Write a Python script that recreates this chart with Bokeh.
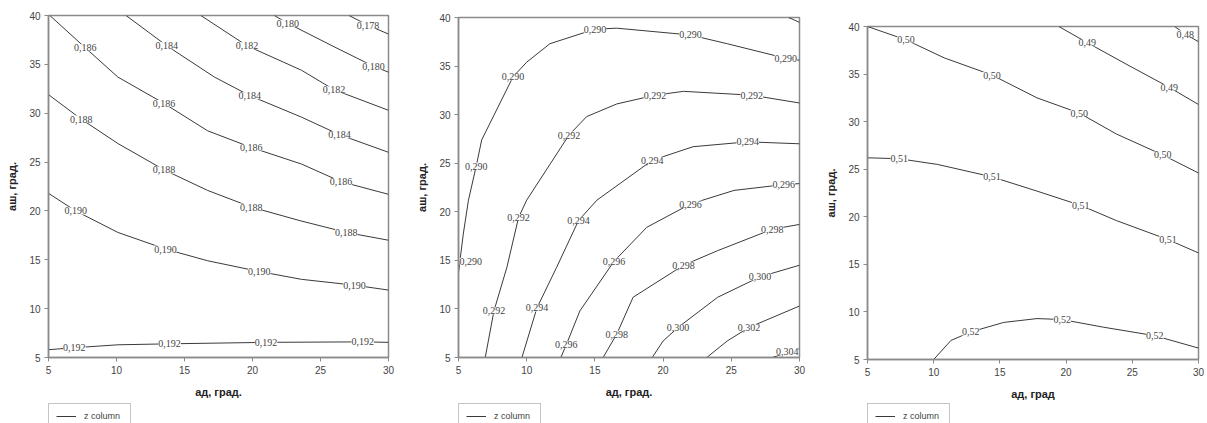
from bokeh.plotting import figure
from bokeh.layouts import row, column
from bokeh.models import (Range1d, FixedTicker, ColumnDataSource, LabelSet,
                          Legend, LegendItem)
from bokeh.embed import file_html
from bokeh.resources import INLINE

# ---------------- data ----------------
X_TICKS = [5, 10, 15, 20, 25, 30]
Y_TICKS = [5, 10, 15, 20, 25, 30, 35, 40]

# Panel 1
P1_LEVELS = ["0,178", "0,180", "0,182", "0,184", "0,186", "0,188", "0,190", "0,192"]
P1_XS = [
    [27.1, 28.5, 30],
    [21.6, 22.6, 26.0, 28.9, 30],
    [16.2, 19.6, 23.6, 26.0, 30],
    [10.7, 13.7, 17.2, 19.8, 23.6, 26.4, 30],
    [5.1, 7.7, 10.1, 13.5, 16.7, 19.9, 23.6, 26.5, 30],
    [5, 7.4, 10.1, 13.5, 16.7, 19.9, 23.5, 26.9, 30],
    [5, 7.0, 10.1, 13.6, 16.7, 20.5, 23.6, 27.5, 30],
    [5, 6.9, 10.1, 13.9, 21.0, 28.1, 30],
]
P1_YS = [
    [40, 39.0, 38.1],
    [40, 39.2, 36.8, 34.8, 34.2],
    [40, 36.9, 34.4, 32.4, 30.3],
    [40, 36.9, 33.7, 31.8, 29.6, 27.8, 26.0],
    [40, 36.7, 33.7, 31.0, 28.2, 26.5, 24.8, 23.0, 21.7],
    [31.9, 29.4, 26.9, 24.2, 22.1, 20.4, 19.0, 17.8, 17.0],
    [21.8, 20.0, 17.8, 16.1, 14.9, 13.8, 13.0, 12.4, 11.9],
    [5.8, 6.0, 6.3, 6.4, 6.55, 6.6, 6.55],
]
P1_LAB_X = [28.5, 22.6, 28.9, 19.6, 26.0, 13.7, 19.8, 26.4, 7.7, 13.5, 19.9, 26.5,
            7.4, 13.5, 19.9, 26.9, 7.0, 13.6, 20.5, 27.5, 6.9, 13.9, 21.0, 28.1]
P1_LAB_Y = [39.0, 39.2, 34.8, 36.9, 32.4, 36.9, 31.8, 27.8, 36.7, 31.0, 26.5, 23.0,
            29.4, 24.2, 20.4, 17.8, 20.0, 16.1, 13.8, 12.4, 6.0, 6.4, 6.55, 6.6]
P1_LAB_T = ["0,178", "0,180", "0,180", "0,182", "0,182", "0,184", "0,184", "0,184",
            "0,186", "0,186", "0,186", "0,186", "0,188", "0,188", "0,188", "0,188",
            "0,190", "0,190", "0,190", "0,190", "0,192", "0,192", "0,192", "0,192"]

# Panel 2
P2_LEVELS = ["0,288", "0,290", "0,292", "0,294", "0,296", "0,298", "0,300", "0,302", "0,304"]
P2_XS = [
    [29.2, 30],
    [5.0, 5.1, 5.35, 5.73, 6.3, 6.7, 9.0, 10.0, 11.7, 15.0, 16.6, 22.0, 24.7, 29.0, 30],
    [6.96, 7.6, 8.55, 9.4, 10.0, 13.1, 14.4, 16.6, 19.4, 21.5, 26.5, 30],
    [9.65, 10.75, 12.2, 13.8, 15.15, 19.2, 22.2, 26.2, 30],
    [12.5, 12.9, 13.9, 16.4, 18.8, 22.0, 25.2, 28.85, 30],
    [15.6, 16.6, 17.8, 21.5, 24.0, 28.0, 30],
    [19.2, 20.0, 21.1, 24.0, 27.1, 30],
    [23.2, 24.7, 26.3, 30],
    [28.0, 29.1, 30],
]
P2_YS = [
    [40, 39.5],
    [13.8, 14.9, 17.7, 21.2, 24.7, 27.4, 33.9, 35.4, 37.3, 38.8, 38.9, 38.2, 37.3, 35.8, 35.6],
    [5, 9.8, 14.3, 19.4, 21.2, 27.9, 29.8, 31.1, 32.0, 32.4, 32.0, 31.2],
    [5, 10.1, 14.3, 19.1, 21.2, 25.3, 26.7, 27.2, 27.0],
    [5, 6.3, 9.8, 14.9, 18.4, 20.8, 22.2, 22.8, 22.9],
    [5, 7.4, 11.2, 14.5, 16.0, 18.2, 18.7],
    [5, 6.7, 8.1, 11.2, 13.3, 14.5],
    [5, 6.7, 8.1, 10.3],
    [5, 5.5, 5.9],
]
P2_LAB_X = [5.9, 6.3, 9.0, 15.0, 22.0, 29.0, 7.6, 9.4, 13.1, 19.4, 26.5,
            10.75, 13.8, 19.2, 26.2, 12.9, 16.4, 22.0, 28.85, 16.6, 21.5, 28.0,
            21.1, 27.1, 26.3, 29.1]
P2_LAB_Y = [14.9, 24.7, 33.9, 38.8, 38.2, 35.8, 9.8, 19.4, 27.9, 32.0, 32.0,
            10.1, 19.1, 25.3, 27.2, 6.3, 14.9, 20.8, 22.8, 7.4, 14.5, 18.2,
            8.1, 13.3, 8.1, 5.6]
P2_LAB_T = ["0,290"] * 6 + ["0,292"] * 5 + ["0,294"] * 4 + ["0,296"] * 4 + \
           ["0,298"] * 3 + ["0,300"] * 2 + ["0,302", "0,304"]

# Panel 3
P3_LEVELS = ["0,48", "0,49", "0,50", "0,51", "0,52"]
P3_XS = [
    [28.2, 29.0, 30],
    [19.45, 21.6, 24.6, 27.8, 30],
    [5, 7.9, 10.8, 14.4, 17.8, 21.0, 23.8, 27.3, 30],
    [5, 7.4, 10.3, 14.4, 17.8, 21.1, 23.8, 27.7, 30],
    [10.0, 11.3, 12.8, 15.3, 17.8, 19.7, 22.8, 26.7, 30],
]
P3_YS = [
    [40, 39.2, 38.4],
    [40, 38.3, 36.0, 33.6, 31.8],
    [40, 38.6, 36.7, 34.9, 32.5, 30.9, 28.7, 26.5, 24.6],
    [26.2, 26.1, 25.5, 24.2, 22.7, 21.2, 19.6, 17.6, 16.2],
    [5, 7.0, 7.9, 8.9, 9.3, 9.2, 8.4, 7.5, 6.2],
]
P3_LAB_X = [29.0, 21.6, 27.8, 7.9, 14.4, 21.0, 27.3, 7.4, 14.4, 21.1, 27.7, 12.8, 19.7, 26.7]
P3_LAB_Y = [39.2, 38.3, 33.6, 38.6, 34.9, 30.9, 26.5, 26.1, 24.2, 21.2, 17.6, 7.9, 9.2, 7.5]
P3_LAB_T = ["0,48", "0,49", "0,49", "0,50", "0,50", "0,50", "0,50",
            "0,51", "0,51", "0,51", "0,51", "0,52", "0,52", "0,52"]

X_TITLES = ["ад, град.", "ад, град.", "ад, град"]
Y_TITLE = "аш, град."
LEGEND_LABEL = "z column"

FONT = "Liberation Sans"
LINE_C = "#3a3a3a"
FRAME_C = "#8a8a8a"
TEXT_C = "#444444"


def make_panel(xs, ys, lx, ly, lt, xtitle, fw, fh, bl, br, bt, bb):
    p = figure(frame_width=fw, frame_height=fh, output_backend="svg",
               toolbar_location=None, x_range=Range1d(5, 30),
               y_range=Range1d(5, 40), frame_align=False,
               min_border_left=bl, min_border_right=br,
               min_border_top=bt, min_border_bottom=bb)
    p.xgrid.visible = False
    p.ygrid.visible = False
    p.outline_line_color = FRAME_C
    p.outline_line_width = 1.5
    p.background_fill_color = "white"
    p.border_fill_color = "white"

    p.multi_line(xs=xs, ys=ys, line_color=LINE_C, line_width=1)

    src = ColumnDataSource(dict(x=lx, y=ly, t=lt))
    labels = LabelSet(x="x", y="y", text="t", source=src,
                      text_align="center", text_baseline="middle",
                      text_font=FONT, text_font_size="10px",
                      text_color=TEXT_C,
                      background_fill_color="white")
    p.add_layout(labels)

    for ax, ticks in ((p.xaxis[0], X_TICKS), (p.yaxis[0], Y_TICKS)):
        ax.ticker = FixedTicker(ticks=ticks)
        ax.minor_tick_line_color = None
        ax.major_tick_in = 0
        ax.major_tick_out = 4
        ax.major_tick_line_color = FRAME_C
        ax.axis_line_color = FRAME_C
        ax.axis_line_width = 1.5
        ax.major_label_text_font = FONT
        ax.major_label_text_font_size = "10px"
        ax.major_label_text_color = TEXT_C
        ax.major_label_standoff = 4
        ax.axis_label_text_font = FONT
        ax.axis_label_text_font_size = "11px"
        ax.axis_label_text_font_style = "bold"
        ax.axis_label_text_color = "#222222"
    p.xaxis[0].axis_label = xtitle
    p.xaxis[0].axis_label_standoff = 9
    p.yaxis[0].axis_label = Y_TITLE
    p.yaxis[0].axis_label_standoff = 8
    return p


def make_legend(width, left, sample_x, sample_y):
    # the sample line's data lies outside this strip's ranges, so only the
    # legend swatch is visible
    lf = figure(width=width, height=22, output_backend="svg",
                toolbar_location=None, x_axis_type=None, y_axis_type=None,
                x_range=Range1d(0, 1), y_range=Range1d(0, 1),
                frame_align=False,
                min_border_left=left, min_border_right=0,
                min_border_top=1, min_border_bottom=0)
    lf.xgrid.visible = False
    lf.ygrid.visible = False
    lf.outline_line_color = None
    r = lf.line(x=sample_x, y=sample_y, line_color=LINE_C, line_width=1)
    legend = Legend(items=[LegendItem(label=LEGEND_LABEL, renderers=[r])],
                    location="top_left", orientation="vertical",
                    border_line_color=FRAME_C, border_line_width=1,
                    background_fill_color="white", background_fill_alpha=1,
                    padding=7, spacing=0, margin=0,
                    glyph_width=20, glyph_height=10, label_height=10,
                    label_width=39, label_standoff=8,
                    label_text_font=FONT, label_text_font_size="9px",
                    label_text_color=TEXT_C)
    lf.add_layout(legend)
    return lf


p1 = make_panel(P1_XS, P1_YS, P1_LAB_X, P1_LAB_Y, P1_LAB_T, X_TITLES[0],
                340, 342, 48, 22, 15, 43)
p2 = make_panel(P2_XS, P2_YS, P2_LAB_X, P2_LAB_Y, P2_LAB_T, X_TITLES[1],
                341, 340, 48, 21, 17, 43)
p3 = make_panel(P3_XS, P3_YS, P3_LAB_X, P3_LAB_Y, P3_LAB_T, X_TITLES[2],
                331, 333, 47, 7, 26, 41)

l1 = make_legend(410, 48, P1_XS[0], P1_YS[0])
l2 = make_legend(410, 48, P2_XS[0], P2_YS[0])
l3 = make_legend(385, 47, P3_XS[0], P3_YS[0])

layout = column(row(p1, p2, p3), row(l1, l2, l3))
open("out.html", "w").write(file_html(layout, INLINE))
